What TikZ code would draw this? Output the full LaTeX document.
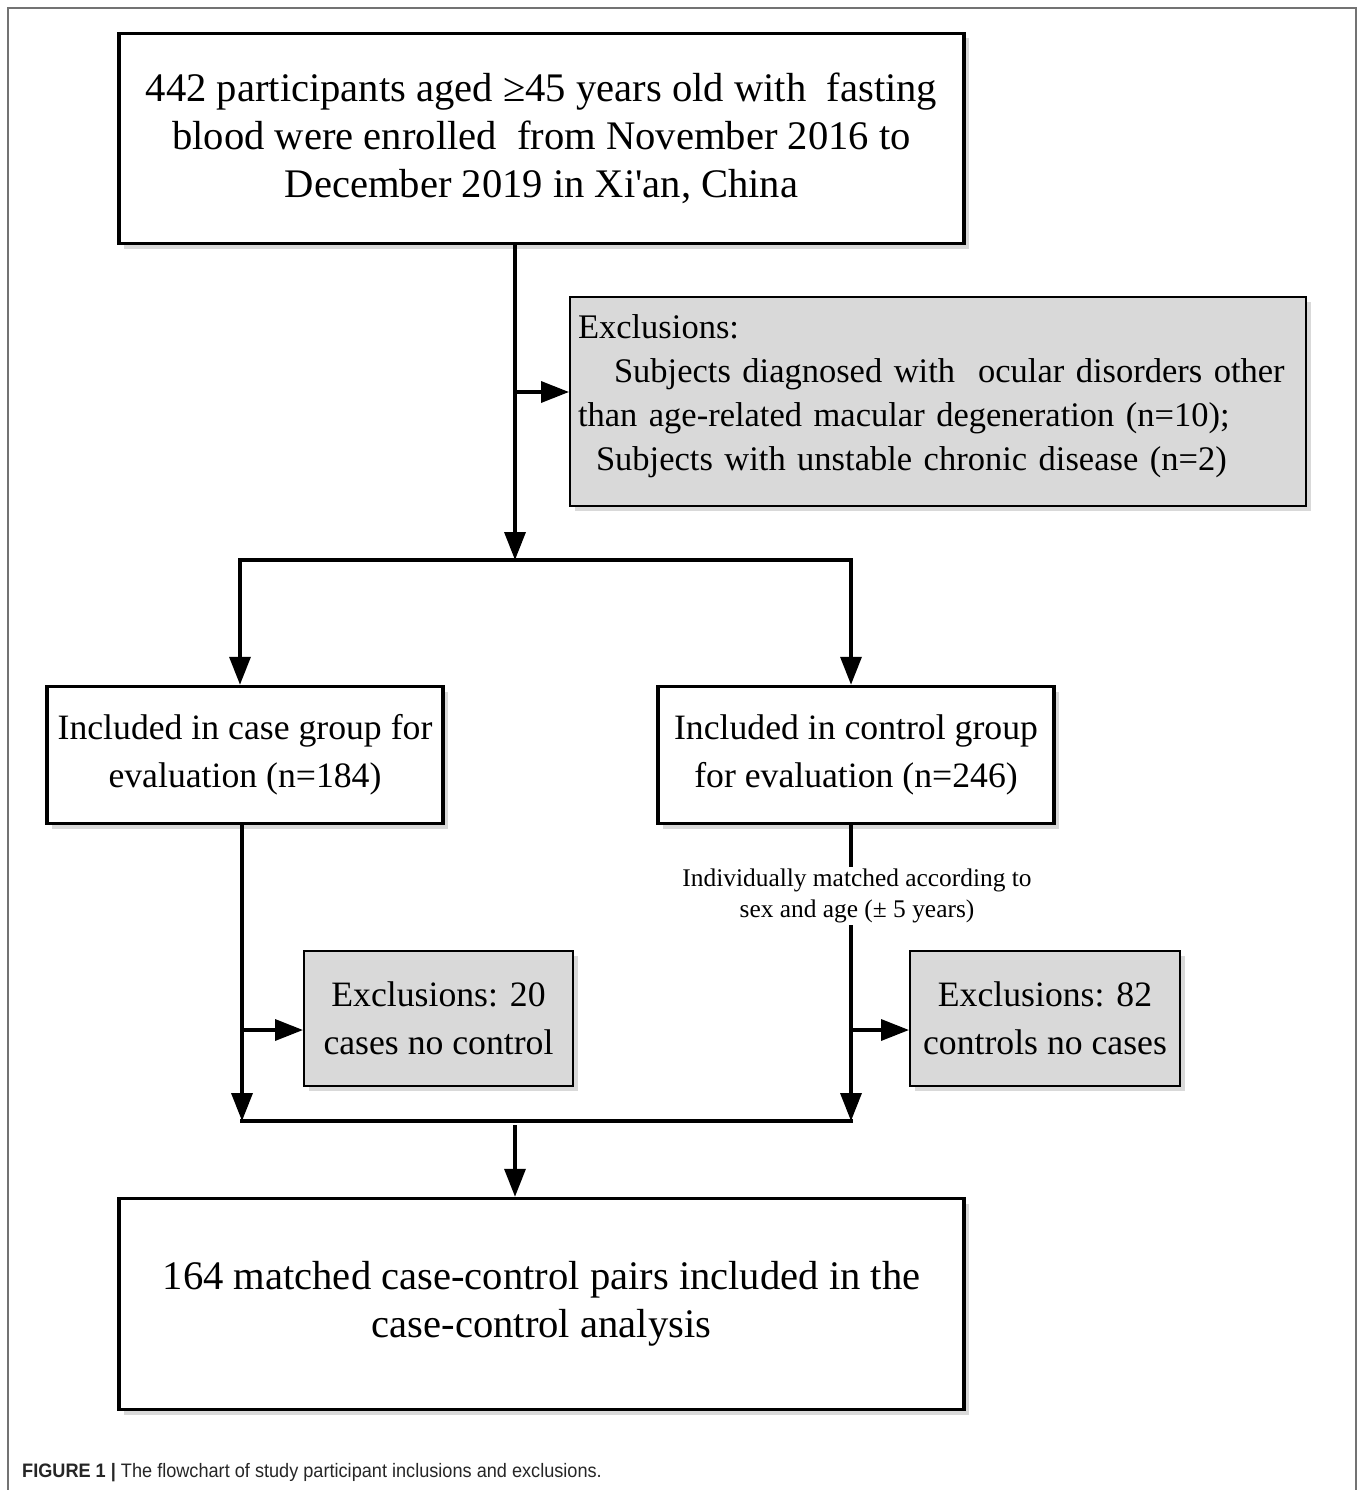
\documentclass[tikz,border=0pt]{standalone}
\usepackage{fontspec}
\setmainfont{Liberation Serif}
\newfontfamily\capfont[FakeStretch=0.93]{Liberation Sans}
\usetikzlibrary{arrows.meta,shadows,calc}
\begin{document}
\begin{tikzpicture}[x=1pt,y=-1pt,
  shad/.style={drop shadow={shadow xshift=5pt,shadow yshift=-5pt,opacity=0.25,fill=black!60}},
  mainbox/.style={draw=black,line width=3.5pt,fill=white,shad,inner sep=0pt,align=center},
  bigtext/.style={font=\fontsize{40.6}{48}\selectfont},
  midtext/.style={font=\fontsize{35.7}{48}\selectfont},
  greybox/.style={draw=black,line width=2pt,fill=black!15,shad,inner sep=0pt},
  conn/.style={line width=3.5pt},
  arr/.style={line width=3.5pt,-{Triangle[length=28pt,width=21pt]}},
]
\useasboundingbox (0,0) rectangle (1358,1490);
\draw[black!55,line width=1.5pt] (8,1490) -- (8,8) -- (1356,8) -- (1356,1490);

\node[mainbox,bigtext,minimum width=845pt,minimum height=210pt] (top) at (541.5,138.5)
  {442 participants aged ≥45 years old with\ \ fasting\\
   blood were enrolled\ \ from November 2016 to\\
   December 2019 in Xi\textquotesingle an, China};

\node[greybox,minimum width=736pt,minimum height=209pt,align=left,text width=720pt,
      font=\fontsize{34.5}{44}\selectfont] (excl) at (938,401.5)
  {Exclusions:\\
   \hspace*{36pt}Subjects diagnosed with\ \ ocular disorders other\\
   than age-related macular degeneration (n=10);\\
   \hspace*{18pt}Subjects with unstable chronic disease (n=2)\rule[-18pt]{0pt}{18pt}};

\node[mainbox,midtext,minimum width=396pt,minimum height=137pt] (case) at (245,755)
  {Included in case group for\\evaluation (n=184)};
\node[mainbox,midtext,minimum width=396pt,minimum height=137pt] (ctrl) at (856,755)
  {Included in control group\\for evaluation (n=246)};

\node[greybox,midtext,minimum width=269pt,minimum height=135pt,align=center] (ex20) at (438.5,1018.5)
  {Exclusions: 20\\cases no control};
\node[greybox,midtext,minimum width=270pt,minimum height=135pt,align=center] (ex82) at (1045,1018.5)
  {Exclusions: 82\\controls no cases};

\node[mainbox,bigtext,minimum width=845pt,minimum height=211pt] (bot) at (541.5,1304)
  {164 matched case-control pairs included in the\\case-control analysis};

% connectors
\coordinate (s1) at (515,560);
\coordinate (b1) at (515,392);
\coordinate (sL) at (240,560);
\coordinate (sR) at (851,560);
\coordinate (mL) at (242,1121);
\coordinate (mR) at (851,1121);
\coordinate (bL) at (242,1030);
\coordinate (bR) at (851,1030);
\coordinate (f) at (515,1125);

\draw[arr] (top.south -| s1) -- (s1);
\draw[arr] (b1) -- (b1 -| excl.west);
\draw[conn,line cap=rect] (sL) -- (sR);
\draw[arr] (sL) -- (sL |- case.north);
\draw[arr] (sR) -- (sR |- ctrl.north);

\draw[arr] (case.south -| mL) -- (mL);
\draw[arr] (bL) -- (bL -| ex20.west);
\draw[arr] (ctrl.south -| mR) -- (mR);
\draw[arr] (bR) -- (bR -| ex82.west);
\draw[conn,line cap=rect] (mL) -- (mR);
\draw[arr] (f) -- (f |- bot.north);

\node[fill=white,inner sep=2pt,align=center,font=\fontsize{25.4}{31.5}\selectfont] (match) at (857,896)
  {Individually matched according to\\sex and age (± 5 years)};

\node[anchor=west,inner sep=0pt,font=\capfont\fontsize{19.5}{22}\selectfont,text=black!85] (cap) at (22,1473)
  {\textbf{FIGURE 1 |} The flowchart of study participant inclusions and exclusions.};
\end{tikzpicture}
\end{document}
